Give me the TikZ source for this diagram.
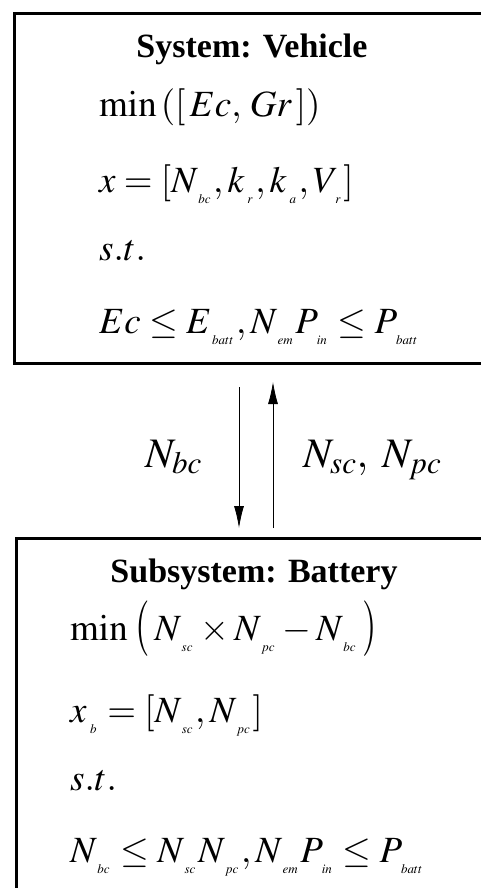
\documentclass[tikz,border=0pt]{standalone}
\usepackage{graphicx}
\usepackage{mathptmx}
\usepackage{fontspec}
\setmainfont{Liberation Serif}
\usetikzlibrary{arrows.meta, positioning}

% tiny, low subscript as in the original equation editor
\newcommand{\lsub}[1]{_{\kern3.5pt\raisebox{-6pt}{\fontsize{13}{13}\selectfont$#1$}\kern2pt}}
% tall thin parenthesis for the battery objective
\newcommand{\tallpar}[1]{\raisebox{-2pt}{\scalebox{1}[1.5]{$#1$}}}

\tikzset{
  sysbox/.style = {draw, rectangle, line width=2.6pt, anchor=north west, inner sep=0pt, minimum width=500pt, minimum height=350pt},
  headline/.style = {anchor=base, inner sep=0pt, font=\fontsize{34}{40}\selectfont\bfseries},
  eqn/.style = {anchor=base west, inner sep=0pt, font=\fontsize{37}{42}\selectfont},
  varlabel/.style = {anchor=base west, inner sep=0pt, font=\fontsize{42}{46}\selectfont},
  flow/.style = {draw, line width=0.8pt, -{Latex[length=22pt, width=10pt]}}
}

\begin{document}
\begin{tikzpicture}[x=1pt, y=-1pt]
    \useasboundingbox (0,0) rectangle (481,888);
    \clip (0,0) rectangle (481,888);

    % Place boxes
    \node [sysbox] (vehicle) at (13,12) {};
    \node [sysbox, minimum height=400pt] (battery) at (15,537) {};

    % System level
    \node [headline] (vtitle) at (252,58) {System: Vehicle};
    \node [eqn] (vobj) at (99,117) {$\min\,([\,Ec,\,Gr\,])$};
    \node [eqn] (vvar) at (99,192) {$x=[N\lsub{bc}, k\lsub{r}, k\lsub{a}, V\lsub{r}]$};
    \node [eqn] (vst) at (99,260) {$s.t.$};
    \node [eqn] (vcon) at (99,333) {$Ec \le E\lsub{batt}, N\lsub{em}P\lsub{in} \le P\lsub{batt}$};

    % Subsystem level
    \node [headline] (btitle) at (254,582) {Subsystem: Battery};
    \node [eqn] (bobj) at (70,640) {$\min\,\tallpar{(}\,N\lsub{sc}\times N\lsub{pc}-N\lsub{bc}\,\tallpar{)}$};
    \node [eqn] (bvar) at (70,722) {$x\lsub{b}=[N\lsub{sc}, N\lsub{pc}]$};
    \node [eqn] (bst) at (70,790) {$s.t.$};
    \node [eqn] (bcon) at (70,862) {$N\lsub{bc}\le N\lsub{sc}N\lsub{pc}, N\lsub{em}P\lsub{in}\le P\lsub{batt}$};

    % Exchanged variables
    \coordinate (down start) at (239,387);
    \coordinate (down end) at (239,528);
    \coordinate (up start) at (273,528);
    \coordinate (up end) at (273,382);
    \path [flow] (down start) -- (down end);
    \path [flow] (up start) -- (up end);
    \node [varlabel] (target) at (145,467) {$N_{bc}$};
    \node [varlabel] (response) at (303,467) {$N_{sc},\;N_{pc}$};
\end{tikzpicture}
\end{document}
